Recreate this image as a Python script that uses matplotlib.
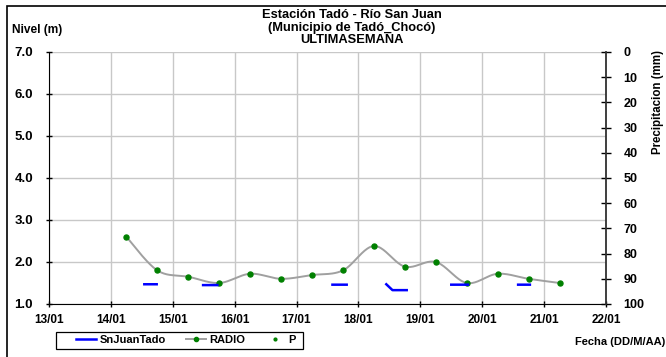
import numpy as np
import matplotlib
matplotlib.use("Agg")
import matplotlib.pyplot as plt
from matplotlib.lines import Line2D
from matplotlib.patches import Rectangle

plt.rcParams['font.family'] = ['Liberation Sans', 'DejaVu Sans']
plt.rcParams['font.weight'] = 'bold'

# ---- data ----
day_ticks = [13, 14, 15, 16, 17, 18, 19, 20, 21, 22]
day_labels = ["13/01", "14/01", "15/01", "16/01", "17/01", "18/01",
              "19/01", "20/01", "21/01", "22/01"]

radio_t = [14.25, 14.75, 15.25, 15.75, 16.25, 16.75, 17.25, 17.75,
           18.25, 18.75, 19.25, 19.75, 20.25, 20.75, 21.25]
radio_v = [2.60, 1.80, 1.65, 1.50, 1.72, 1.60, 1.69, 1.80,
           2.38, 1.89, 2.00, 1.50, 1.72, 1.60, 1.50]

nan = np.nan
snj_t = [14.54, 14.74, nan, 15.49, 15.72, nan, 17.58, 17.81, nan,
         18.45, 18.55, 18.78, nan, 19.50, 19.77, nan, 20.58, 20.77]
snj_v = [1.47, 1.47, nan, 1.45, 1.45, nan, 1.46, 1.46, nan,
         1.47, 1.33, 1.33, nan, 1.46, 1.46, nan, 1.46, 1.46]

p_t = []
p_v = []

nivel_ticks = [1.0, 2.0, 3.0, 4.0, 5.0, 6.0, 7.0]
precip_ticks = [0, 10, 20, 30, 40, 50, 60, 70, 80, 90, 100]


def catmull_rom(x, y, n=24):
    pts = np.column_stack([x, y]).astype(float)
    out = []
    m = len(pts)
    for i in range(m - 1):
        p0 = pts[i - 1] if i > 0 else pts[i]
        p1 = pts[i]
        p2 = pts[i + 1]
        p3 = pts[i + 2] if i + 2 < m else pts[i + 1]
        t = np.linspace(0, 1, n)[:, None]
        seg = 0.5 * ((2 * p1) + (-p0 + p2) * t +
                     (2 * p0 - 5 * p1 + 4 * p2 - p3) * t ** 2 +
                     (-p0 + 3 * p1 - 3 * p2 + p3) * t ** 3)
        out.append(seg if i == 0 else seg[1:])
    out = np.vstack(out)
    return out[:, 0], out[:, 1]


W, H = 666, 357
fig = plt.figure(figsize=(W / 100, H / 100), dpi=100)
ax = fig.add_axes([49 / W, 1 - 304 / H, 557 / W, 252 / H])

ax.set_xlim(13, 22)
ax.set_ylim(1, 7)
ax.set_xticks(day_ticks)
ax.set_xticklabels(day_labels)
ax.set_yticks(nivel_ticks)
ax.set_yticklabels([f"{v:.1f}" for v in nivel_ticks])
ax.grid(True, color='#c8c8c8', linewidth=1.0)
ax.set_axisbelow(True)
ax.spines['top'].set_visible(False)
ax.spines['right'].set_visible(False)
ax.spines['left'].set_color('black')
ax.spines['bottom'].set_color('black')
ax.tick_params(axis='y', labelsize=9.5, width=1, length=5, direction='inout',
               colors='black', pad=9)
ax.tick_params(axis='x', labelsize=8.5, width=1, length=5, direction='inout',
               colors='black', pad=5)

sx, sy = catmull_rom(radio_t, radio_v)
ax.plot(sx, sy, color='#a0a0a0', linewidth=1.4, zorder=3)
ax.plot(radio_t, radio_v, linestyle='none', marker='o', markersize=3.6,
        color='#008000', zorder=4)
ax.plot(snj_t, snj_v, color='#0000ff', linewidth=1.8, zorder=5)
ax.plot(p_t, p_v, linestyle='none', marker='o', markersize=2, color='#008000')

ax2 = ax.twinx()
ax2.set_ylim(100, 0)
ax2.set_yticks(precip_ticks)
ax2.tick_params(axis='y', labelsize=9, length=7, width=1, direction='inout',
                pad=9)
for s in ['top', 'left', 'bottom']:
    ax2.spines[s].set_visible(False)
ax2.spines['right'].set_color('#303030')
ax2.spines['right'].set_linewidth(1.3)

# texts
fig.text(352 / W, 1 - 15.5 / H, "Estación Tadó - Río San Juan", ha='center',
         va='center', fontsize=9.3, fontweight='bold')
fig.text(352 / W, 1 - 28 / H, "(Municipio de Tadó_Chocó)", ha='center',
         va='center', fontsize=9.3, fontweight='bold')
fig.text(352 / W, 1 - 40 / H, "ULTIMASEMANA", ha='center',
         va='center', fontsize=9.3, fontweight='bold')
fig.text(11.5 / W, 1 - 29.5 / H, "Nivel (m)", ha='left', va='center',
         fontsize=8.6, fontweight='bold')
fig.text(658 / W, 1 - 102 / H, "Precipitacion (mm)", ha='center', va='center',
         rotation=90, fontsize=8.3, fontweight='bold')
fig.text(665 / W, 1 - 342 / H, "Fecha (DD/M/AA)", ha='right', va='center',
         fontsize=8, fontweight='bold')

# legend
handles = [
    Line2D([], [], color='#0000ff', linewidth=1.8),
    Line2D([], [], color='#a0a0a0', linewidth=1.4, marker='o',
           markersize=3, markerfacecolor='#008000', markeredgecolor='#008000'),
    Line2D([], [], linestyle='none', marker='o', markersize=2,
           color='#008000'),
]
leg = fig.legend(handles, ["SnJuanTado", "RADIO", "P"], ncol=3,
                 loc='center left', bbox_to_anchor=(76 / W, 1 - 340.2 / H),
                 fontsize=8, frameon=False, handlelength=1.8,
                 handletextpad=0.3, columnspacing=1.8, borderpad=0,
                 borderaxespad=0)
fig.patches.append(Rectangle((55.5 / W, 1 - 348.7 / H), 247.5 / W, 17 / H,
                             transform=fig.transFigure, fill=False,
                             edgecolor='black', linewidth=0.9))

# figure border (left and top visible)
fig.patches.append(Rectangle((7 / W, -0.2), 2, 1.2 - 6 / H,
                             transform=fig.transFigure, fill=False,
                             edgecolor='black', linewidth=1.2))

fig.savefig("out.png", dpi=100)
